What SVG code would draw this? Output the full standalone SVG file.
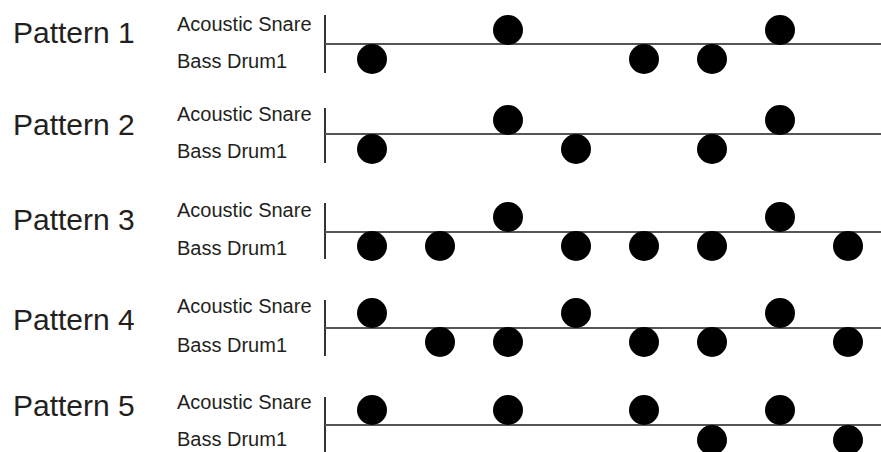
<svg xmlns="http://www.w3.org/2000/svg" width="881" height="452" viewBox="0 0 881 452">
<style>
.t{font-family:"Liberation Sans",Arial,sans-serif;fill:#231f20}
.p{font-size:30px}
.l{font-size:20px}
.h{stroke:#555;stroke-width:2}
.v{stroke:#333;stroke-width:2}
.d{fill:#000}
</style>
<rect width="881" height="452" fill="#fff"/>
<g id="pattern1">
<text class="t p" x="13" y="43">Pattern 1</text>
<text class="t l" x="177" y="31">Acoustic Snare</text>
<text class="t l" x="177" y="68">Bass Drum1</text>
</g>
<g id="pattern2">
<text class="t p" x="13" y="135">Pattern 2</text>
<text class="t l" x="177" y="121">Acoustic Snare</text>
<text class="t l" x="177" y="158">Bass Drum1</text>
</g>
<g id="pattern3">
<text class="t p" x="13" y="230">Pattern 3</text>
<text class="t l" x="177" y="217">Acoustic Snare</text>
<text class="t l" x="177" y="255">Bass Drum1</text>
</g>
<g id="pattern4">
<text class="t p" x="13" y="330">Pattern 4</text>
<text class="t l" x="177" y="313">Acoustic Snare</text>
<text class="t l" x="177" y="352">Bass Drum1</text>
</g>
<g id="pattern5">
<text class="t p" x="13" y="416">Pattern 5</text>
<text class="t l" x="177" y="409">Acoustic Snare</text>
<text class="t l" x="177" y="446">Bass Drum1</text>
</g>
<g id="connectors">
<line class="v" x1="325" y1="15" x2="325" y2="73"/>
<line class="h" x1="325" y1="44" x2="881" y2="44"/>
<line class="v" x1="325" y1="108" x2="325" y2="163"/>
<line class="h" x1="325" y1="134" x2="881" y2="134"/>
<line class="v" x1="325" y1="203" x2="325" y2="259"/>
<line class="h" x1="325" y1="232" x2="881" y2="232"/>
<line class="v" x1="325" y1="300" x2="325" y2="356"/>
<line class="h" x1="325" y1="328" x2="881" y2="328"/>
<line class="v" x1="325" y1="397" x2="325" y2="452"/>
<line class="h" x1="325" y1="425" x2="881" y2="425"/>
</g>
<g id="dots1">
<circle class="d" cx="508" cy="30" r="15"/><circle class="d" cx="780" cy="30" r="15"/>
<circle class="d" cx="372" cy="59" r="15"/><circle class="d" cx="644" cy="59" r="15"/><circle class="d" cx="712" cy="59" r="15"/>
</g>
<g id="dots2">
<circle class="d" cx="508" cy="120" r="15"/><circle class="d" cx="780" cy="120" r="15"/>
<circle class="d" cx="372" cy="149" r="15"/><circle class="d" cx="576" cy="149" r="15"/><circle class="d" cx="712" cy="149" r="15"/>
</g>
<g id="dots3">
<circle class="d" cx="508" cy="217" r="15"/><circle class="d" cx="780" cy="217" r="15"/>
<circle class="d" cx="372" cy="246" r="15"/><circle class="d" cx="440" cy="246" r="15"/><circle class="d" cx="576" cy="246" r="15"/><circle class="d" cx="644" cy="246" r="15"/><circle class="d" cx="712" cy="246" r="15"/><circle class="d" cx="848" cy="246" r="15"/>
</g>
<g id="dots4">
<circle class="d" cx="372" cy="313" r="15"/><circle class="d" cx="576" cy="313" r="15"/><circle class="d" cx="780" cy="313" r="15"/>
<circle class="d" cx="440" cy="342" r="15"/><circle class="d" cx="508" cy="342" r="15"/><circle class="d" cx="644" cy="342" r="15"/><circle class="d" cx="712" cy="342" r="15"/><circle class="d" cx="848" cy="342" r="15"/>
</g>
<g id="dots5">
<circle class="d" cx="372" cy="410" r="15"/><circle class="d" cx="508" cy="410" r="15"/><circle class="d" cx="644" cy="410" r="15"/><circle class="d" cx="780" cy="410" r="15"/>
<circle class="d" cx="712" cy="440" r="15"/><circle class="d" cx="848" cy="440" r="15"/>
</g>
</svg>
